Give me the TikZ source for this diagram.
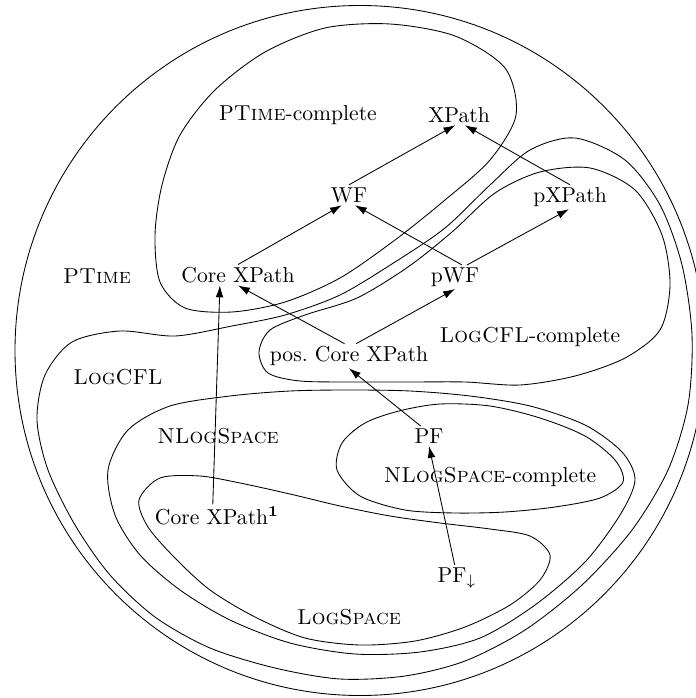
\documentclass[tikz,border=0pt]{standalone}
\usepackage{amsmath,amssymb}
\usetikzlibrary{arrows.meta}

\begin{document}
\begin{tikzpicture}[x=0.463pt,y=-0.463pt,>={Latex[length=5.5pt,width=3.6pt]},inner sep=1pt]
    \useasboundingbox (0,0) rectangle (695,698);

    \node (ptc) at (298,115) {P\textsc{Time}-complete};
    \node (xpath) at (459,115) {XPath};
    \node (wf) at (349,195) {WF};
    \node (pxpath) at (570,197) {pXPath};
    \node (ptime) at (97,276) {\textsc{PTime}};
    \node (core) at (238,275) {Core XPath};
    \node (pwf) at (455,277) {pWF};
    \node (lcc) at (530,337) {\textsc{LogCFL}-complete};
    \node (pos) at (349,356) {pos.\ Core XPath};
    \node (logcfl) at (118,377) {\textsc{LogCFL}};
    \node (nls) at (218,436) {\textsc{NLogSpace}};
    \node (pf) at (429,436) {PF};
    \node (nlsc) at (490,477) {\textsc{NLogSpace}-complete};
    \node (core1) at (217,516) {Core XPath$^{\mathbf{1}}$};
    \node (pfd) at (457,578) {PF$_{\downarrow}$};
    \node (ls) at (349,617) {\textsc{LogSpace}};

    \draw (360,350.5) circle [radius=345];
    \draw plot [smooth cycle] coordinates {(232,312) (185,308) (160,282) (155,235) (162,185) (180,135) (215,90) (265,52) (325,28) (390,24) (455,36) (505,68) (516,115) (490,160) (445,200) (395,240) (340,278) (285,302)};
    \draw plot [smooth cycle] coordinates {(232,326) (175,336) (120,331) (72,342) (45,375) (37,420) (48,470) (75,525) (110,575) (155,617) (210,648) (275,668) (340,679) (405,676) (465,661) (525,630) (582,585) (632,530) (668,470) (688,405) (692,335) (682,265) (660,205) (625,160) (575,138) (530,150) (490,185) (445,228) (395,262) (340,295) (285,315)};
    \draw plot [smooth cycle] coordinates {(259,352) (270,330) (305,315) (357,298) (408,267) (452,232) (495,193) (540,172) (590,168) (635,190) (662,235) (670,285) (660,330) (625,358) (575,376) (520,385) (465,382) (410,382) (355,382) (300,381) (268,373)};
    \draw plot [smooth cycle] coordinates {(230,396) (290,391) (350,390) (410,391) (470,396) (530,406) (585,425) (622,452) (635,480) (620,515) (585,562) (535,605) (480,638) (420,652) (355,654) (290,643) (230,620) (180,590) (140,555) (115,515) (108,470) (128,430) (170,406)};
    \draw plot [smooth cycle] coordinates {(399,411) (440,404) (490,406) (540,418) (585,436) (615,460) (623,482) (600,498) (555,507) (505,512) (455,513) (405,510) (360,496) (337,470) (342,443) (365,423)};
    \draw plot [smooth cycle] coordinates {(160,478) (200,476) (240,483) (290,494) (340,506) (390,516) (440,523) (490,529) (530,536) (550,555) (540,580) (510,605) (465,627) (415,641) (360,645) (305,638) (255,617) (210,590) (175,558) (148,527) (139,500)};

    \draw [->] (wf.north) to (xpath.250);
    \draw [->] (core.north) to (wf.235);
    \draw [->] (pwf.60) to (wf.-60);
    \draw [->] (pxpath.north) to (xpath.-60);
    \draw [->] (pwf.45) to (pxpath.265);
    \draw [->] (pos.110) to (core.south);
    \draw [->] (pos.60) to (pwf.south);
    \draw [->] (pf.130) to (pos.south);
    \draw [->] (pfd.100) to (pf.south);
    \draw [->] (core1.110) to (core.-150);

\end{tikzpicture}
\end{document}
